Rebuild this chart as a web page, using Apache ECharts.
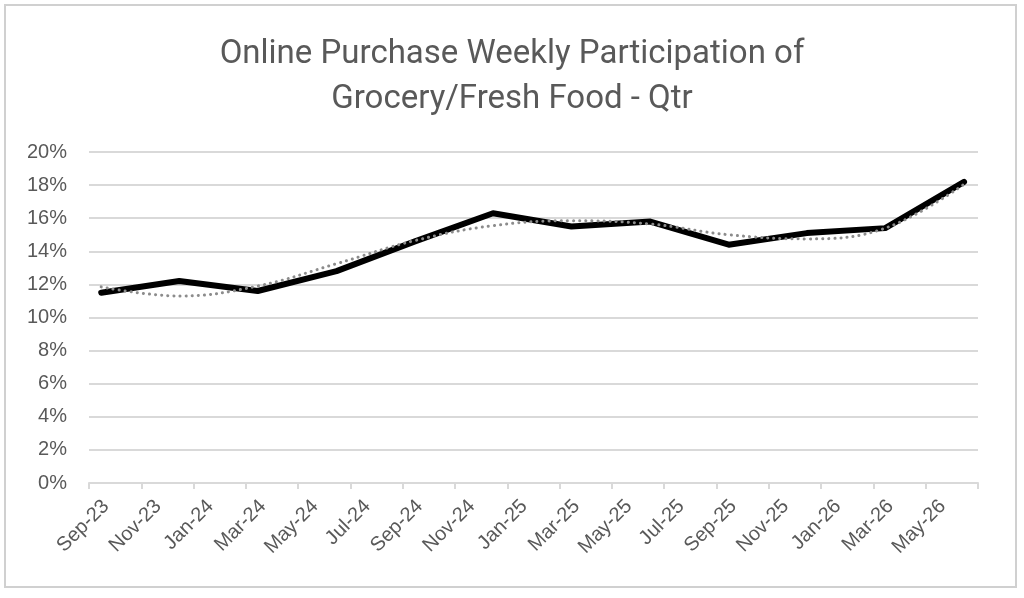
<!DOCTYPE html>
<html>
<head>
<meta charset="utf-8">
<title>Online Purchase Weekly Participation</title>
<script src="https://cdn.jsdelivr.net/npm/echarts@6/dist/echarts.min.js"></script>
<style>
  html, body { margin: 0; padding: 0; background: #fff; }
  #chart { width: 1024px; height: 598px; }
</style>
</head>
<body>
<div id="chart"></div>
<script>
// 季度数据点 (日期)
const quarterDates = ['2023-09-15', '2023-12-15', '2024-03-15', '2024-06-15', '2024-09-15', '2024-12-15',
  '2025-03-15', '2025-06-15', '2025-09-15', '2025-12-15', '2026-03-15', '2026-06-15'];
// 每周参与率 (%)
const participation = [11.5, 12.2, 11.6, 12.8, 14.6, 16.3, 15.5, 15.8, 14.4, 15.1, 15.4, 18.2];
// 趋势线
const trend = [11.85, 11.3, 11.9, 13.25, 14.65, 15.55, 15.85, 15.65, 15.0, 14.75, 15.4, 18.05];
// x 轴标签, 每两个月一个
const tickLabels = ['Sep-23', 'Nov-23', 'Jan-24', 'Mar-24', 'May-24', 'Jul-24', 'Sep-24', 'Nov-24', 'Jan-25',
  'Mar-25', 'May-25', 'Jul-25', 'Sep-25', 'Nov-25', 'Jan-26', 'Mar-26', 'May-26'];

// 日期 -> 距 2023-09-01 的月数
function monthIndex(s) {
  const [y, m, d] = s.split('-').map(Number);
  const days = new Date(y, m, 0).getDate();
  return (y - 2023) * 12 + (m - 9) + (d - 1) / days;
}

const mainData = quarterDates.map((d, i) => [monthIndex(d), participation[i]]);
const trendData = quarterDates.map((d, i) => [monthIndex(d), trend[i]]);

const textColor = '#595959';
const gridColor = '#d9d9d9';
const labelFont = '"Liberation Sans", Arial, sans-serif';

const chart = echarts.init(document.getElementById('chart'));
chart.setOption({
  animation: false,
  title: {
    text: 'Online Purchase Weekly Participation of\nGrocery/Fresh Food - Qtr',
    left: 'center',
    top: 27,
    textStyle: {
      fontFamily: 'Roboto, sans-serif',
      fontWeight: 'normal',
      fontSize: 33,
      lineHeight: 45,
      color: textColor
    }
  },
  graphic: [{
    type: 'rect',
    shape: { x: 5, y: 5, width: 1011, height: 582 },
    style: { fill: 'none', stroke: '#d0d0d0', lineWidth: 2 }
  }],
  grid: { left: 89, right: 46, top: 152, bottom: 115 },
  xAxis: {
    type: 'value',
    min: 0,
    max: 34,
    interval: 2,
    splitLine: { show: false },
    axisLine: { show: true, lineStyle: { color: gridColor, width: 2 } },
    axisTick: { show: true, length: 6, lineStyle: { color: gridColor, width: 2 } },
    axisLabel: {
      rotate: 45,
      margin: 16,
      align: 'right',
      verticalAlign: 'top',
      lineHeight: 30,
      padding: [0, -9, 0, 0],
      color: textColor,
      fontSize: 20,
      fontFamily: labelFont,
      showMinLabel: true,
      showMaxLabel: true,
      formatter: v => tickLabels[v / 2] || ''
    }
  },
  yAxis: {
    type: 'value',
    min: 0,
    max: 20,
    interval: 2,
    axisLine: { show: false },
    axisTick: { show: false },
    splitLine: { lineStyle: { color: gridColor, width: 2 } },
    axisLabel: {
      margin: 22,
      color: textColor,
      fontSize: 20,
      fontFamily: labelFont,
      showMinLabel: true,
      formatter: '{value}%'
    }
  },
  series: [
    {
      name: 'Participation',
      type: 'line',
      data: mainData,
      showSymbol: false,
      lineStyle: { color: '#000', width: 6, join: 'round', cap: 'round' },
      z: 3
    },
    {
      name: 'Trend',
      type: 'line',
      data: trendData,
      smooth: 0.4,
      showSymbol: false,
      lineStyle: { color: '#8c8c8c', width: 3, type: [0.1, 6], cap: 'round' },
      z: 4
    }
  ]
});
</script>
</body>
</html>
